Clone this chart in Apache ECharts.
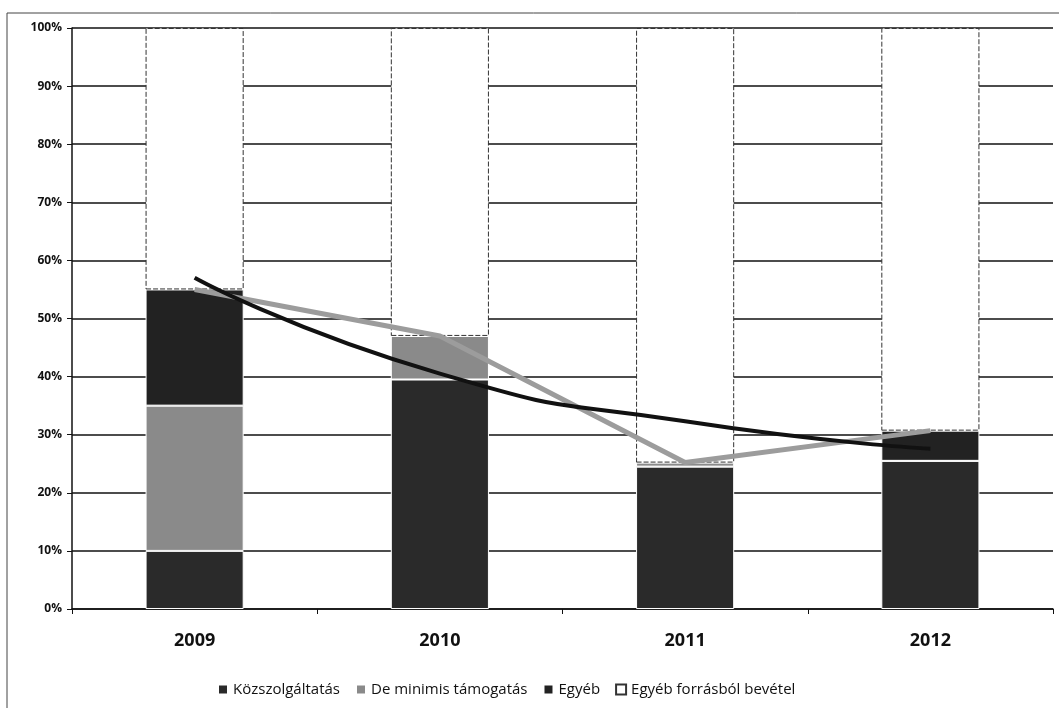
<!DOCTYPE html>
<html>
<head>
<meta charset="utf-8">
<script src="https://cdn.jsdelivr.net/npm/echarts@6/dist/echarts.min.js"></script>
<style>
html,body{margin:0;padding:0;background:#fff;}
#chart{width:1059px;height:708px;}
</style>
</head>
<body>
<div id="chart"></div>
<script>
const categories = ['2009', '2010', '2011', '2012'];
const kozszolgaltatas = [10, 39.5, 24.5, 25.5];
const deMinimis = [25, 7.5, 0.7, 0];
const egyeb = [20, 0, 0, 5.2];
const egyebForrasbol = [45, 53, 74.8, 69.3];
const osszesen = [55, 47, 25.2, 30.7];
const trend = [57, 40.5, 32.3, 27.6];
const yTicks = [0, 10, 20, 30, 40, 50, 60, 70, 80, 90, 100];

const FONT = '"Open Sans", "Liberation Sans", sans-serif';
const chart = echarts.init(document.getElementById('chart'), null, {renderer: 'canvas'});

const segStyle = (c) => ({color: c, borderColor: '#ffffff', borderWidth: 1});

chart.setOption({
  animation: false,
  backgroundColor: '#ffffff',
  graphic: [{
    type: 'rect',
    shape: {x: 7, y: 13, width: 1200, height: 900},
    style: {fill: 'none', stroke: '#444', lineWidth: 1},
    silent: true
  }],
  grid: {left: 72, right: 6, top: 28, bottom: 99, containLabel: false},
  legend: {
    data: ['Közszolgáltatás', 'De minimis támogatás', 'Egyéb', 'Egyéb forrásból bevétel'],
    left: 212,
    top: 677,
    icon: 'rect',
    itemWidth: 10,
    itemHeight: 10,
    itemGap: 15,
    textStyle: {fontFamily: FONT, fontSize: 15, color: '#111'}
  },
  xAxis: {
    type: 'category',
    data: categories,
    axisLine: {lineStyle: {color: '#111', width: 1.5}},
    axisTick: {show: true, length: 5, lineStyle: {color: '#111'}},
    axisLabel: {fontFamily: FONT, fontSize: 18, fontWeight: 'bold', color: '#111', margin: 23},
    splitLine: {show: false}
  },
  yAxis: {
    type: 'value',
    min: yTicks[0],
    max: yTicks[yTicks.length - 1],
    interval: 10,
    axisLine: {show: true, lineStyle: {color: '#111', width: 1.5}},
    axisTick: {show: true, length: 5, lineStyle: {color: '#111'}},
    axisLabel: {formatter: '{value}%', fontFamily: FONT, fontSize: 12, fontWeight: 'bold', color: '#111', margin: 10},
    splitLine: {show: true, lineStyle: {color: '#111', width: 1.6}}
  },
  series: [
    {name: 'Közszolgáltatás', type: 'bar', stack: 'a', barWidth: '40%', data: kozszolgaltatas, itemStyle: segStyle('#2a2a2a')},
    {name: 'De minimis támogatás', type: 'bar', stack: 'a', data: deMinimis, itemStyle: segStyle('#8a8a8a')},
    {name: 'Egyéb', type: 'bar', stack: 'a', data: egyeb, itemStyle: segStyle('#222222')},
    {name: 'Egyéb forrásból bevétel', type: 'bar', stack: 'a', data: egyebForrasbol,
      itemStyle: {color: '#ffffff', borderColor: '#333', borderWidth: 1, borderType: [5, 2]}},
    {name: 'Összesen', type: 'line', data: osszesen, symbol: 'none', z: 5,
      lineStyle: {color: '#9c9c9c', width: 5}},
    {name: 'Trend', type: 'line', data: trend, symbol: 'none', smooth: 0.6, z: 6,
      lineStyle: {color: '#111', width: 4}}
  ]
});
</script>
</body>
</html>
